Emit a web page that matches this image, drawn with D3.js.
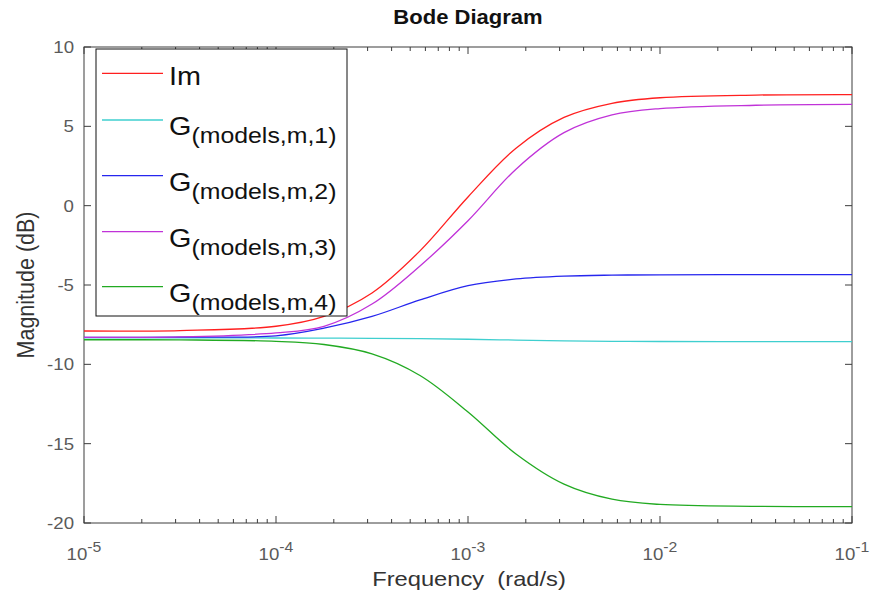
<!DOCTYPE html>
<html><head><meta charset="utf-8">
<script src="https://cdn.jsdelivr.net/npm/d3@7"></script>
<style>
html,body{margin:0;padding:0;background:#fff;}
text{font-family:"Liberation Sans",Arial,sans-serif;}
</style></head>
<body>
<svg id="chart" width="872" height="592"></svg>
<script>
// Frequencies (rad/s) as decade exponents
const freqExp = [-5, -4.5, -4, -3.75, -3.5, -3.25, -3, -2.75, -2.5, -2.25, -2, -1.5, -1];
const imVals = [-7.9, -7.87, -7.6, -6.98, -5.5, -2.85, 0.55, 3.62, 5.56, 6.45, 6.8, 6.97, 7.0];
const g1Vals = [-8.33, -8.33, -8.34, -8.35, -8.36, -8.38, -8.42, -8.47, -8.52, -8.55, -8.56, -8.57, -8.57];
const g2Vals = [-8.3, -8.29, -8.2, -7.72, -6.98, -5.94, -5.04, -4.62, -4.44, -4.38, -4.36, -4.35, -4.35];
const g3Vals = [-8.3, -8.27, -8.02, -7.6, -6.2, -3.8, -0.95, 2.3, 4.6, 5.72, 6.12, 6.33, 6.38];
const g4Vals = [-8.45, -8.46, -8.55, -8.75, -9.34, -10.7, -13.0, -15.65, -17.55, -18.5, -18.83, -18.95, -18.97];
const seriesNames = ["Im", "G1", "G2", "G3", "G4"];
const legendSubs = [null, "(models,m,1)", "(models,m,2)", "(models,m,3)", "(models,m,4)"];
const colors = ["#ff1f1f", "#3fcfcf", "#2626ee", "#c032d8", "#22aa22"];
const yTicks = [-20, -15, -10, -5, 0, 5, 10];
const xTickExp = [-5, -4, -3, -2, -1];

const SX = 1.13; // horizontal glyph stretch seen in the reference
const svg = d3.select("#chart");
const L = 84, R = 852, T = 47, B = 523;
const x = d3.scaleLog().domain([1e-5, 1e-1]).range([L, R]);
const y = d3.scaleLinear().domain([-20, 10]).range([B, T]);

const allVals = [imVals, g1Vals, g2Vals, g3Vals, g4Vals];

function stext(parent, px, py, extra) {
  return parent.append("g").attr("transform", `translate(${px},${py}) scale(${SX},1)${extra || ""}`)
    .append("text").attr("x", 0).attr("y", 0);
}

// title
stext(svg, 468, 24).attr("text-anchor", "middle")
  .attr("font-size", 19.5).attr("font-weight", "bold").attr("fill", "#111").text("Bode Diagram");

// axes frame
const axCol = "#3c3c3c";
svg.append("rect").attr("x", L).attr("y", T).attr("width", R - L).attr("height", B - T)
  .attr("fill", "#fff").attr("stroke", axCol).attr("stroke-width", 1);

const majorT = xTickExp.map(e => Math.pow(10, e));
const minorT = [];
for (let e = -5; e < -1; e++) for (let k = 2; k <= 9; k++) minorT.push(k * Math.pow(10, e));

function xAxisTicks(yPos, dir) {
  const g = svg.append("g");
  g.selectAll("line.maj").data(majorT).enter().append("line")
    .attr("x1", d => x(d)).attr("x2", d => x(d))
    .attr("y1", yPos).attr("y2", yPos + dir * 7).attr("stroke", axCol);
  g.selectAll("line.min").data(minorT).enter().append("line")
    .attr("x1", d => x(d)).attr("x2", d => x(d))
    .attr("y1", yPos).attr("y2", yPos + dir * 4).attr("stroke", axCol);
}
xAxisTicks(B, -1);
xAxisTicks(T, 1);

function yAxisTicks(xPos, dir) {
  svg.append("g").selectAll("line").data(yTicks).enter().append("line")
    .attr("x1", xPos).attr("x2", xPos + dir * 7)
    .attr("y1", d => y(d)).attr("y2", d => y(d)).attr("stroke", axCol);
}
yAxisTicks(L, 1);
yAxisTicks(R, -1);

// y tick labels
yTicks.forEach(v => {
  stext(svg, L - 10, y(v) + 6).attr("text-anchor", "end")
    .attr("font-size", 16.5).attr("fill", "#5a5a5a").text(v);
});

// x tick labels 10^e
xTickExp.forEach(e => {
  const t = stext(svg, x(Math.pow(10, e)), 560).attr("text-anchor", "middle")
    .attr("font-size", 16.5).attr("fill", "#5a5a5a");
  t.append("tspan").text("10");
  t.append("tspan").attr("dy", -8).attr("font-size", 14).text(e);
});

// axis labels
stext(svg, 469, 586).attr("text-anchor", "middle")
  .attr("font-size", 21).attr("fill", "#333").attr("xml:space", "preserve").text("Frequency  (rad/s)");
stext(svg, 34, 285, " rotate(-90)").attr("text-anchor", "middle")
  .attr("font-size", 21.5).attr("fill", "#333").text("Magnitude (dB)");

// curves
const line = d3.line()
  .x((d, i) => x(Math.pow(10, freqExp[i])))
  .y(d => y(d))
  .curve(d3.curveCatmullRom.alpha(0.5));
svg.append("clipPath").attr("id", "clip").append("rect")
  .attr("x", L).attr("y", T).attr("width", R - L).attr("height", B - T);
svg.append("g").attr("clip-path", "url(#clip)").selectAll("path").data(allVals).enter().append("path")
  .attr("d", d => line(d)).attr("fill", "none")
  .attr("stroke", (d, i) => colors[i]).attr("stroke-width", 1.3);

// legend
const lg = svg.append("g");
lg.append("rect").attr("x", 96).attr("y", 49).attr("width", 251).attr("height", 267)
  .attr("fill", "#fff").attr("stroke", "#111").attr("stroke-width", 1);
const lineYs = [73.3, 120, 175.7, 231.7, 286.7];
seriesNames.forEach((n, i) => {
  lg.append("line").attr("x1", 102).attr("x2", 163).attr("y1", lineYs[i]).attr("y2", lineYs[i])
    .attr("stroke", colors[i]).attr("stroke-width", 1.3);
  if (i === 0) {
    stext(lg, 169, lineYs[i] + 12).attr("font-size", 25.5).attr("fill", "#111").text("Im");
  } else {
    const t = stext(lg, 169, lineYs[i] + 15).attr("font-size", 25.5).attr("fill", "#111");
    t.append("tspan").text("G");
    t.append("tspan").attr("dy", 8).attr("font-size", 22).text(legendSubs[i]);
  }
});
</script>
</body></html>
